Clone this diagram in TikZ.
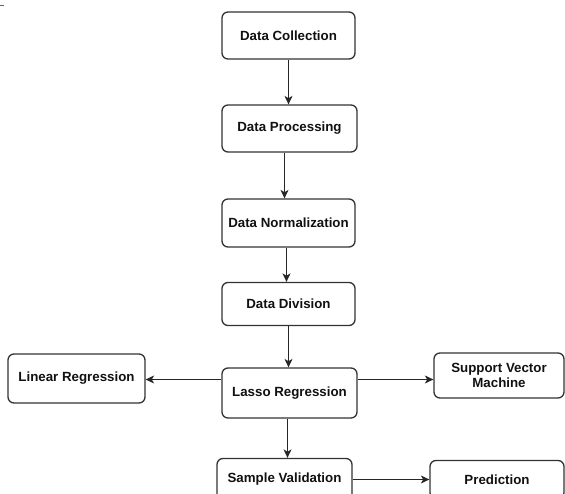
\documentclass[tikz,border=0pt]{standalone}
\usepackage{fontspec}
\setmainfont{Liberation Sans}
\usetikzlibrary{arrows.meta}

\definecolor{boxline}{HTML}{333333}
\definecolor{inktext}{HTML}{111111}

\tikzset{
  stage/.style={draw=boxline, line width=1.3pt, rounded corners=6pt,
    fill=white, inner sep=0pt, align=center, text=inktext,
    font=\fontsize{13.3}{15}\selectfont\bfseries},
  flow/.style={draw=black!85, line width=1.1pt,
    -{Stealth[length=8.5pt,width=8pt,inset=2.4pt]}}
}

\begin{document}
\begin{tikzpicture}[x=1pt,y=-1pt]
\useasboundingbox (0,0) rectangle (565,494);

% stray mark in the upper left corner
\draw[color=gray!70!blue, line width=1pt] (0,5.5) -- (4,5.5);

% main pipeline
\node[stage, minimum width=133pt, minimum height=47pt] (dc)    at (288.5,35.5) {Data Collection};
\node[stage, minimum width=135pt, minimum height=47pt] (dp)    at (289.5,128.5) {Data Processing};
\node[stage, minimum width=133pt, minimum height=48pt] (dn)    at (288.5,223) {Data Normalization};
\node[stage, minimum width=133pt, minimum height=43pt] (dd)    at (288.5,304) {Data Division};
\node[stage, minimum width=135pt, minimum height=50pt] (lasso) at (289.5,393) {Lasso Regression};

% side models
\node[stage, minimum width=137pt, minimum height=49pt] (lr)  at (76.5,378.5) {Linear Regression};
\node[stage, minimum width=130pt, minimum height=45pt] (svm) at (499,375.5) {Support Vector\\Machine};

% validation and prediction
\node[stage, minimum width=135pt, minimum height=42pt] (sv)   at (284.5,479.5) {Sample Validation};
\node[stage, minimum width=134pt, minimum height=38pt] (pred) at (497,479.5) {Prediction};

% branch points on the sides of the lasso box
\coordinate (lassoL) at ([yshift=13.5pt]lasso.west);
\coordinate (lassoR) at ([yshift=13.5pt]lasso.east);

% connectors
\draw[flow] (dc.south) -- (dc.south |- dp.north);
\draw[flow] ([xshift=-5pt]dp.south) -- ([xshift=-5pt]dp.south |- dn.north);
\draw[flow] ([xshift=-2pt]dn.south) -- ([xshift=-2pt]dn.south |- dd.north);
\draw[flow] (dd.south) -- (dd.south |- lasso.north);
\draw[flow] (lassoL) -- (lr.east |- lassoL);
\draw[flow] (lassoR) -- (svm.west |- lassoR);
\draw[flow] ([xshift=-2pt]lasso.south) -- ([xshift=-2pt]lasso.south |- sv.north);
\draw[flow] (sv.east) -- (pred.west |- sv.east);
\end{tikzpicture}
\end{document}
